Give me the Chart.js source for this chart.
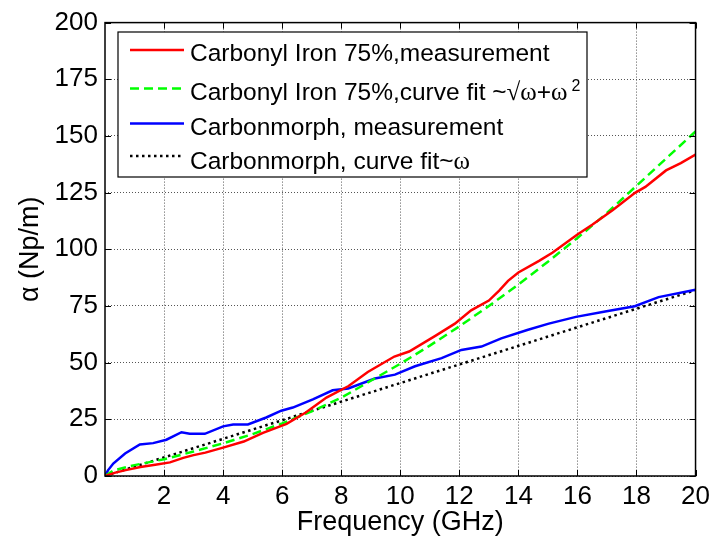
<!DOCTYPE html>
<html>
<head>
<meta charset="utf-8">
<script src="https://cdn.jsdelivr.net/npm/chart.js@4.4.1/dist/chart.umd.min.js"></script>
<style>
  html, body { margin: 0; padding: 0; background: #fff; }
</style>
</head>
<body>
<canvas id="alphaChart" width="715" height="553"></canvas>
<script>
// values (frequency in GHz, alpha in Np/m)
const redFreq = [0, 0.35, 0.7, 1.2, 1.7, 2.2, 2.65, 3.0, 3.4, 4.0, 4.7, 5.35, 6.15, 6.8, 7.5, 8.25, 8.9, 9.8, 10.3, 11.2, 11.85, 12.4, 13.0, 13.35, 13.65, 14.0, 14.7, 15.15, 16.0, 16.5, 17.2, 17.95, 18.3, 19.0, 19.5, 20];
const redAlpha = [0, 1.5, 2.6, 4.0, 5.0, 6.0, 8.0, 9.2, 10.3, 12.5, 15.2, 19.0, 23.0, 28.0, 34.6, 39.7, 45.9, 52.7, 54.9, 61.9, 67.2, 73.1, 77.4, 81.8, 86.1, 89.8, 94.9, 98.5, 106.5, 110.8, 117.3, 124.9, 127.5, 134.8, 138.0, 141.8];

const greenFreq = [0, 0.3, 1, 2, 3, 4, 5, 6, 7, 8, 9, 10, 11, 12, 13, 14, 15, 16, 17, 18, 19, 20];
const greenAlpha = [0, 2.5, 4.8, 7.4, 10.8, 14.4, 18.5, 23.2, 28.5, 34.5, 42.0, 49.5, 57.5, 66.0, 75.0, 84.5, 94.5, 105.0, 116.0, 128.0, 140.0, 152.0];

const blueFreq = [0, 0.1, 0.28, 0.68, 1.18, 1.63, 2.08, 2.59, 2.87, 3.38, 4.0, 4.34, 4.84, 5.46, 5.97, 6.36, 7.04, 7.71, 8.24, 9.14, 9.82, 10.5, 11.4, 12.07, 12.75, 13.42, 14.3, 15.03, 15.95, 16.94, 17.94, 18.75, 20];
const blueAlpha = [0, 2.5, 5.5, 9.9, 13.9, 14.5, 16.0, 19.3, 18.6, 18.6, 21.9, 22.7, 22.7, 25.8, 28.8, 30.2, 33.8, 37.8, 38.6, 43.0, 44.7, 48.4, 52.0, 55.6, 57.1, 60.7, 64.4, 67.2, 70.2, 72.6, 74.9, 78.9, 82.2];

const blackFreq = [0, 20];
const blackAlpha = [0, 82];

const xTicks = [2, 4, 6, 8, 10, 12, 14, 16, 18, 20];
const yTicks = [0, 25, 50, 75, 100, 125, 150, 175, 200];

const labels = [
  'Carbonyl Iron 75%,measurement',
  'Carbonyl Iron 75%,curve fit ~\u221A\u03C9+\u03C9\u00B2',
  'Carbonmorph, measurement',
  'Carbonmorph, curve fit~\u03C9'
];

const SANS = '"Liberation Sans", Arial, sans-serif';
const SERIF = '"Liberation Serif", "Times New Roman", serif';

const toPts = (xs, ys) => xs.map((x, i) => ({ x: x, y: ys[i] }));

// draws a legend label, greek / root signs in a serif face, ² as superscript
function drawLabel(ctx, text, x, y) {
  let cx = x;
  for (const ch of text) {
    if (ch === '\u00B2') {
      ctx.font = '16px ' + SANS;
      ctx.fillText('2', cx + 4, y - 9);
      continue;
    }
    ctx.font = (ch === '\u03C9' || ch === '\u221A') ? '25px ' + SERIF : '24.5px ' + SANS;
    ctx.fillText(ch, cx, y);
    cx += ctx.measureText(ch).width;
  }
}

const matlabFrame = {
  id: 'matlabFrame',
  afterDatasetsDraw(chart) {
    const { ctx, chartArea: a, scales } = chart;
    ctx.save();
    ctx.strokeStyle = '#000';
    ctx.lineWidth = 1;
    // inward tick marks on all four sides
    ctx.beginPath();
    xTicks.forEach(v => {
      const px = Math.round(scales.x.getPixelForValue(v)) + 0.5;
      ctx.moveTo(px, a.bottom); ctx.lineTo(px, a.bottom - 6);
      ctx.moveTo(px, a.top); ctx.lineTo(px, a.top + 6);
    });
    yTicks.forEach(v => {
      const py = Math.round(scales.y.getPixelForValue(v)) + 0.5;
      ctx.moveTo(a.left, py); ctx.lineTo(a.left + 6, py);
      ctx.moveTo(a.right, py); ctx.lineTo(a.right - 6, py);
    });
    ctx.stroke();
    ctx.lineWidth = 1.5;
    ctx.strokeRect(a.left, a.top, a.right - a.left, a.bottom - a.top);

    // legend box
    const box = { l: 118, t: 32, r: 587, b: 177 };
    ctx.fillStyle = '#fff';
    ctx.fillRect(box.l, box.t, box.r - box.l, box.b - box.t);
    ctx.lineWidth = 1.2;
    ctx.strokeRect(box.l, box.t, box.r - box.l, box.b - box.t);
    const sampleY = [50, 88.5, 123.5, 156];
    const textY = [61, 100, 135, 168.5];
    chart.data.datasets.forEach((ds, i) => {
      ctx.beginPath();
      ctx.strokeStyle = ds.borderColor;
      ctx.lineWidth = 2.5;
      ctx.setLineDash(ds.borderDash || []);
      ctx.moveTo(130, sampleY[i]);
      ctx.lineTo(184, sampleY[i]);
      ctx.stroke();
      ctx.setLineDash([]);
      ctx.fillStyle = '#000';
      ctx.textBaseline = 'alphabetic';
      drawLabel(ctx, ds.label, 190, textY[i]);
    });
    ctx.restore();
  }
};

Chart.defaults.color = '#000';
Chart.defaults.font.family = SANS;

const ctx = document.getElementById('alphaChart').getContext('2d');
const alphaChart = new Chart(ctx, {
  type: 'scatter',
  data: {
    datasets: [
      {
        label: labels[0],
        data: toPts(redFreq, redAlpha),
        borderColor: '#ff0000',
        borderWidth: 2.5
      },
      {
        label: labels[1],
        data: toPts(greenFreq, greenAlpha),
        borderColor: '#00ff00',
        borderWidth: 2.5,
        borderDash: [9, 5]
      },
      {
        label: labels[2],
        data: toPts(blueFreq, blueAlpha),
        borderColor: '#0000ff',
        borderWidth: 2.5
      },
      {
        label: labels[3],
        data: toPts(blackFreq, blackAlpha),
        borderColor: '#000000',
        borderWidth: 2.5,
        borderDash: [2.5, 3.5]
      }
    ].map(ds => Object.assign(ds, {
      showLine: true,
      pointRadius: 0,
      pointHoverRadius: 0,
      tension: 0,
      fill: false
    }))
  },
  options: {
    responsive: false,
    animation: false,
    events: [],
    layout: { padding: { left: 0, right: 18, top: 17, bottom: 0 } },
    plugins: {
      legend: { display: false },
      tooltip: { enabled: false }
    },
    scales: {
      x: {
        type: 'linear',
        min: 0,
        max: 20,
        afterBuildTicks: s => { s.ticks = xTicks.map(v => ({ value: v })); },
        afterFit: s => { s.height = 77; },
        ticks: { font: { size: 26 }, padding: 5, maxRotation: 0, autoSkip: false },
        grid: { color: '#555', lineWidth: 1, drawTicks: false },
        border: { display: false, dash: [1, 2] },
        title: {
          display: true,
          text: 'Frequency (GHz)',
          font: { size: 27 },
          padding: { top: 0, bottom: 14 }
        }
      },
      y: {
        min: 0,
        max: 200,
        afterBuildTicks: s => { s.ticks = yTicks.map(v => ({ value: v })); },
        afterFit: s => { s.width = 105; },
        ticks: { font: { size: 26 }, padding: 7, autoSkip: false },
        grid: { color: '#555', lineWidth: 1, drawTicks: false },
        border: { display: false, dash: [1, 2] },
        title: {
          display: true,
          text: '\u03B1 (Np/m)',
          font: { size: 27 },
          padding: { top: 14, bottom: 0 }
        }
      }
    }
  },
  plugins: [matlabFrame]
});
</script>
</body>
</html>
